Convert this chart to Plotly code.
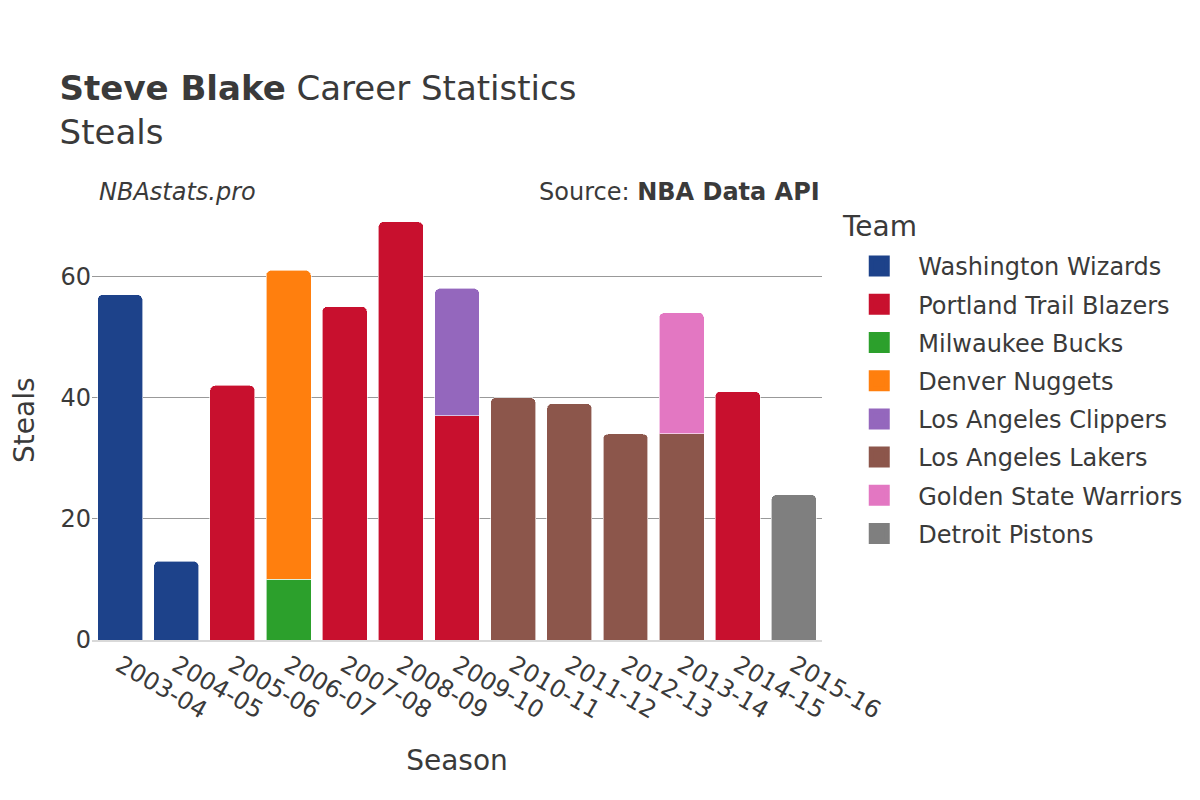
import plotly.graph_objects as go

seasons = ["2003-04", "2004-05", "2005-06", "2006-07", "2007-08", "2008-09", "2009-10",
           "2010-11", "2011-12", "2012-13", "2013-14", "2014-15", "2015-16"]

teams = ["Washington Wizards", "Portland Trail Blazers", "Milwaukee Bucks", "Denver Nuggets",
         "Los Angeles Clippers", "Los Angeles Lakers", "Golden State Warriors", "Detroit Pistons"]
colors = ["#1D428A", "#C8102E", "#2CA02C", "#FF7F0E", "#9467BD", "#8C564B", "#E377C2", "#7F7F7F"]

wizards_seasons = ["2003-04", "2004-05"]
wizards_steals = [57, 13]
blazers_seasons = ["2005-06", "2007-08", "2008-09", "2009-10", "2014-15"]
blazers_steals = [42, 55, 69, 37, 41]
bucks_seasons = ["2006-07"]
bucks_steals = [10]
nuggets_seasons = ["2006-07"]
nuggets_steals = [51]
clippers_seasons = ["2009-10"]
clippers_steals = [21]
lakers_seasons = ["2010-11", "2011-12", "2012-13", "2013-14"]
lakers_steals = [40, 39, 34, 34]
warriors_seasons = ["2013-14"]
warriors_steals = [20]
pistons_seasons = ["2015-16"]
pistons_steals = [24]

series = [
    (wizards_seasons, wizards_steals),
    (blazers_seasons, blazers_steals),
    (bucks_seasons, bucks_steals),
    (nuggets_seasons, nuggets_steals),
    (clippers_seasons, clippers_steals),
    (lakers_seasons, lakers_steals),
    (warriors_seasons, warriors_steals),
    (pistons_seasons, pistons_steals),
]

fig = go.Figure()
for name, color, (x, y) in zip(teams, colors, series):
    fig.add_trace(go.Bar(
        x=x, y=y, name=name, legendgroup=name, showlegend=False,
        marker=dict(color=color, line=dict(color="rgba(255,255,255,0.6)", width=1)),
    ))
# legend entries with larger square icons
for name, color in zip(teams, colors):
    fig.add_trace(go.Scatter(
        x=[None], y=[None], mode="markers", name=name, legendgroup=name,
        marker=dict(symbol="square", size=16, color=color,
                    line=dict(color=color, width=5)),
        hoverinfo="skip",
    ))

font_family = "DejaVu Sans, Verdana, sans-serif"
fig.update_layout(
    barmode="stack",
    barcornerradius=5,
    bargap=0.2,
    width=1200, height=800,
    paper_bgcolor="white", plot_bgcolor="white",
    font=dict(family=font_family, size=24, color="#3a3a3a"),
    margin=dict(l=84, r=386, t=192, b=168),
    title=dict(
        text="<b>Steve Blake</b> Career Statistics<br>Steals",
        x=0.043, xanchor="left", y=0.885, yanchor="top",
        font=dict(size=34, color="#3a3a3a"),
    ),
    xaxis=dict(
        type="category", automargin=False,
        title=dict(text="Season", font=dict(size=28), standoff=27),
        categoryorder="array", categoryarray=seasons,
        tickangle=30, tickfont=dict(size=24),
        showline=True, linecolor="#d9d9d9", linewidth=2,
    ),
    yaxis=dict(
        automargin=False,
        range=[0, 72.6], tickvals=[0, 20, 40, 60],
        gridcolor="#999999", gridwidth=1, zeroline=False,
        tickfont=dict(size=24),
    ),
    legend=dict(
        font=dict(size=24), x=1.025, y=0.9, yanchor="top",
        traceorder="grouped", tracegroupgap=4,
        itemsizing="trace", itemwidth=68,
    ),
    annotations=[
        dict(text="Steals", xref="paper", yref="paper", x=0, y=0.5, xshift=-68,
             textangle=-90, xanchor="center", yanchor="middle", showarrow=False,
             font=dict(size=28)),
        dict(text="Team", xref="paper", yref="paper", x=1.025, y=1.0, yshift=-26,
             xanchor="left", yanchor="middle", showarrow=False, font=dict(size=28)),
        dict(text="<i>NBAstats.pro</i>", xref="paper", yref="paper", x=0.007, y=1.0,
             xanchor="left", yanchor="bottom", showarrow=False, font=dict(size=24), yshift=-8),
        dict(text="Source: <b>NBA Data API</b>", xref="paper", yref="paper", x=1.0, y=1.0,
             xanchor="right", yanchor="bottom", showarrow=False, font=dict(size=24), yshift=-8),
    ],
)

fig.write_html("out.html")
